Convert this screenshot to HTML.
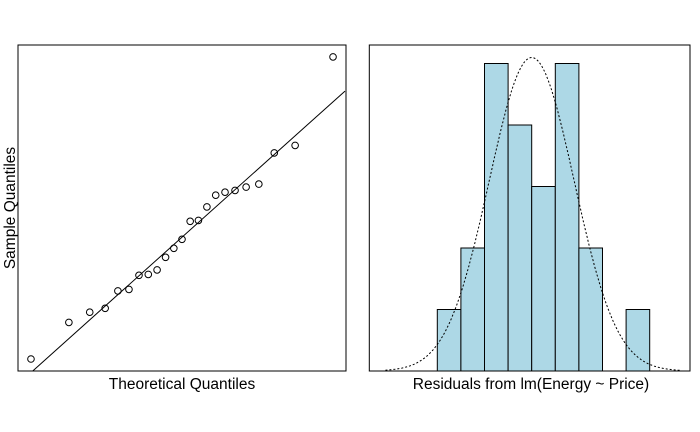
<!DOCTYPE html>
<html><head><meta charset="utf-8"><style>
body{margin:0;background:#fff}
svg{display:block;font-family:"Liberation Sans",Arial,sans-serif}
</style></head><body>
<svg id="c" width="700" height="432" viewBox="0 0 700 432">
<rect x="18" y="45" width="328" height="326" fill="none" stroke="#000"/>
<rect x="369.3" y="45" width="320.7" height="326" fill="none" stroke="#000"/>
<text x="182" y="389" font-size="15.5" text-anchor="middle">Theoretical Quantiles</text>
<text transform="translate(15,208) rotate(-90)" font-size="15.5" text-anchor="middle">Sample Quantiles</text>
<text x="531" y="389" font-size="15.5" text-anchor="middle">Residuals from lm(Energy ~ Price)</text>
<g id="qq"></g><g id="hist"></g>
</svg>
<script>
const sampleVals=[-4.3,-3.08,-2.74,-2.61,-2.03,-1.98,-1.51,-1.48,-1.33,-0.91,-0.61,-0.31,0.29,0.32,0.77,1.16,1.26,1.32,1.43,1.53,2.57,2.82,5.77];
const qqSlope=2.235, qqIntercept=-0.24;
const breaks=[-4,-3,-2,-1,0,1,2,3,4,5];
const counts=[1,2,5,4,3,5,2,0,1];
const resMean=0, resSd=1.8;

const NS="http://www.w3.org/2000/svg";
function mk(t,a,p){const e=document.createElementNS(NS,t);for(const k in a)e.setAttribute(k,a[k]);p.appendChild(e);return e;}
const n=sampleVals.length;
function qnorm(p){
const a=[-39.6968302866538,220.946098424521,-275.928510446969,138.357751867269,-30.6647980661472,2.50662827745924],
b=[-54.4760987982241,161.585836858041,-155.698979859887,66.8013118877197,-13.2806815528857],
c=[-0.00778489400243029,-0.322396458041136,-2.40075827716184,-2.54973253934373,4.37466414146497,2.93816398269878],
d=[0.00778469570904146,0.32246712907004,2.445134137143,3.75440866190742];
let q,r;if(p<0.02425){q=Math.sqrt(-2*Math.log(p));return(((((c[0]*q+c[1])*q+c[2])*q+c[3])*q+c[4])*q+c[5])/((((d[0]*q+d[1])*q+d[2])*q+d[3])*q+1);}
if(p>1-0.02425){q=Math.sqrt(-2*Math.log(1-p));return-(((((c[0]*q+c[1])*q+c[2])*q+c[3])*q+c[4])*q+c[5])/((((d[0]*q+d[1])*q+d[2])*q+d[3])*q+1);}
q=p-0.5;r=q*q;return(((((a[0]*r+a[1])*r+a[2])*r+a[3])*r+a[4])*r+a[5])*q/(((((b[0]*r+b[1])*r+b[2])*r+b[3])*r+b[4])*r+1);}
const qx=v=>182+v*74.8, qy=v=>230-v*30;
const qq=document.getElementById('qq');
const sorted=[...sampleVals].sort((a,b)=>a-b);
sorted.forEach((v,i)=>{const t=qnorm((i+0.5)/n);
const c=mk('circle',{cx:qx(t),cy:qy(v),r:3.3,fill:'none',stroke:'#000','stroke-width':1},qq);

});
let x0=(-4.7-qqIntercept)/qqSlope, x1=(345-182)/74.8;
const ln=mk('line',{x1:qx(x0),y1:qy(qqIntercept+qqSlope*x0),x2:qx(x1),y2:qy(qqIntercept+qqSlope*x1),stroke:'#000','stroke-width':1},qq);


const hx=v=>437.3+(v+4)*23.6, hy=v=>371-v*61.5;
const hg=document.getElementById('hist');
counts.forEach((c,i)=>{if(c<=0)return;
const r=mk('rect',{x:hx(breaks[i]),y:hy(c),width:hx(breaks[i+1])-hx(breaks[i]),height:hy(0)-hy(c),fill:'#add8e6',stroke:'#000','stroke-width':1},hg);

});
const bw=breaks[1]-breaks[0];
let d='';for(let v=-6.2;v<=6.3;v+=0.05){const y=n*bw*Math.exp(-0.5*((v-resMean)/resSd)**2)/(resSd*Math.sqrt(2*Math.PI));d+=(d?'L':'M')+hx(v).toFixed(1)+','+hy(y).toFixed(1);}
const p=mk('path',{d:d,fill:'none',stroke:'#000','stroke-width':1,'stroke-dasharray':'2,2'},hg);


</script>
</body></html>
